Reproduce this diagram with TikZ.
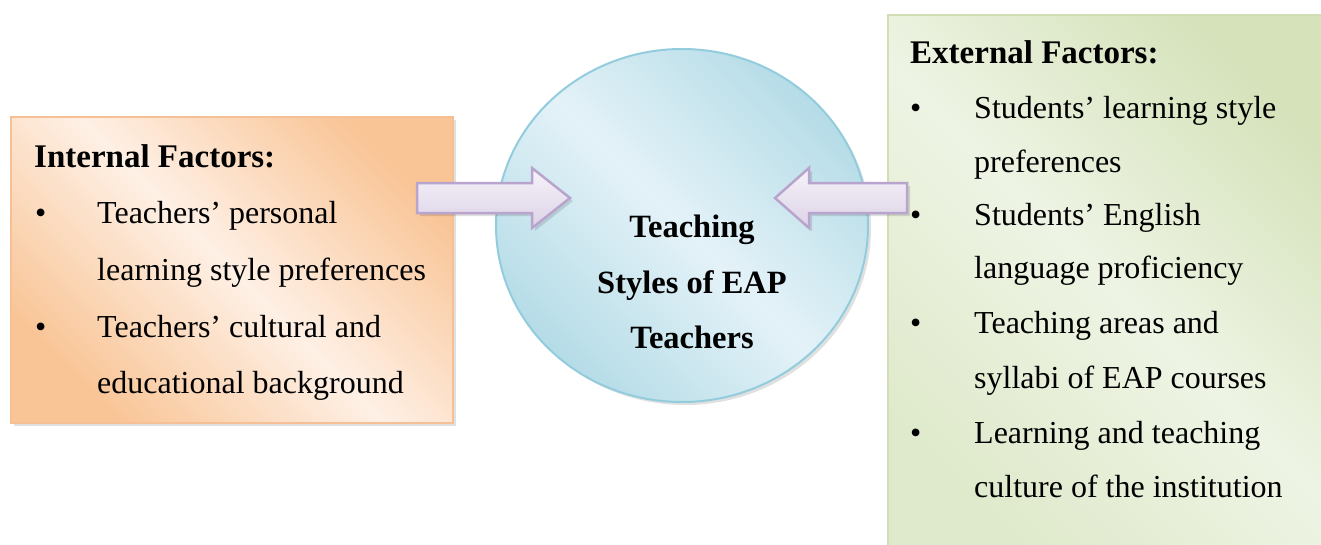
\documentclass[tikz,border=0pt]{standalone}
\usepackage{fontspec}
\setmainfont{Liberation Serif}
\usetikzlibrary{shapes.geometric,shadows}
\definecolor{orgdark}{HTML}{F9C597}
\definecolor{orglight}{HTML}{FEF0E5}
\definecolor{orgedge}{HTML}{F5C096}
\definecolor{grndark}{HTML}{D5E2BA}
\definecolor{grnlight}{HTML}{EEF4E4}
\definecolor{grnedge}{HTML}{D2DEB6}
\definecolor{bludark}{HTML}{B5DCE7}
\definecolor{blulight}{HTML}{E4F2F8}
\definecolor{bluedge}{HTML}{93CDDD}
\definecolor{arrtop}{HTML}{F6F3F9}
\definecolor{arrbot}{HTML}{DCD2E6}
\definecolor{arredge}{HTML}{B8A4CD}
\tikzset{
  softshadow/.style={drop shadow={shadow xshift=3pt,shadow yshift=-3pt,fill=black,opacity=.12}},
  leftbox/.style={rectangle,draw=orgedge,line width=2.5pt,softshadow,
     shading=axis,top color=orgdark,bottom color=orgdark,middle color=orglight,shading angle=-45},
  rightbox/.style={rectangle,draw=grnedge,line width=2.5pt,softshadow,
     shading=axis,top color=grndark,bottom color=grndark!60!grnlight,middle color=grnlight,shading angle=-45},
  corebox/.style={ellipse,draw=bluedge,line width=2pt,softshadow,
     shading=axis,top color=bludark,bottom color=bludark,middle color=blulight,shading angle=-45},
  blockarrow/.style={draw=arredge,line width=2.5pt,line join=miter,softshadow,
     top color=arrtop,bottom color=arrbot},
  heading/.style={anchor=base west,inner sep=0pt,font=\fontsize{33}{40}\selectfont\bfseries},
  item/.style={anchor=base west,inner sep=0pt,font=\fontsize{32}{40}\selectfont},
  bul/.style={anchor=base west,inner sep=0pt,font=\fontsize{32}{40}\selectfont},
  coretext/.style={anchor=base,inner sep=0pt,font=\fontsize{32.5}{40}\selectfont\bfseries}
}
\begin{document}
\begin{tikzpicture}[x=1pt,y=-1pt]
\useasboundingbox (0,0) rectangle (1321,544);
\fill[white] (0,0) rectangle (1321,544);

% boxes
\node[leftbox,minimum width=442pt,minimum height=306pt] (internal) at (232,270) {};
\node[rightbox,minimum width=455pt,minimum height=550pt] (external) at (1115.5,290) {};
\node[corebox,minimum width=372pt,minimum height=353pt] (core) at (682,225.5) {};

% block arrows
\draw[blockarrow] (417,183) -- (532,183) -- (532,168) -- (570,198) -- (532,228) -- (532,213) -- (417,213) -- cycle;
\draw[blockarrow] (907,183) -- (809,183) -- (809,168) -- (775,198) -- (809,228) -- (809,213) -- (907,213) -- cycle;

% internal text
\node[heading] (ih) at (34,167) {Internal Factors:};
\node[bul] (ib1) at (35,223) {•};
\node[item] (i1a) at (97,223) {Teachers’ personal};
\node[item] (i1b) at (97,280) {learning style preferences};
\node[bul] (ib2) at (35,337) {•};
\node[item] (i2a) at (97,337) {Teachers’ cultural and};
\node[item] (i2b) at (97,393) {educational background};

% core text
\node[coretext] (c1) at (692,237) {Teaching};
\node[coretext] (c2) at (692,293) {Styles of EAP};
\node[coretext] (c3) at (692,348) {Teachers};

% external text
\node[heading] (eh) at (910,63) {External Factors:};
\node[bul] (eb1) at (910,118) {•};
\node[item] (e1a) at (974,118) {Students’ learning style};
\node[item] (e1b) at (974,172) {preferences};
\node[bul] (eb2) at (910,225) {•};
\node[item] (e2a) at (974,225) {Students’ English};
\node[item] (e2b) at (974,278) {language proficiency};
\node[bul] (eb3) at (910,333) {•};
\node[item] (e3a) at (974,333) {Teaching areas and};
\node[item] (e3b) at (974,388) {syllabi of EAP courses};
\node[bul] (eb4) at (910,443) {•};
\node[item] (e4a) at (974,443) {Learning and teaching};
\node[item] (e4b) at (974,497) {culture of the institution};
\end{tikzpicture}
\end{document}
